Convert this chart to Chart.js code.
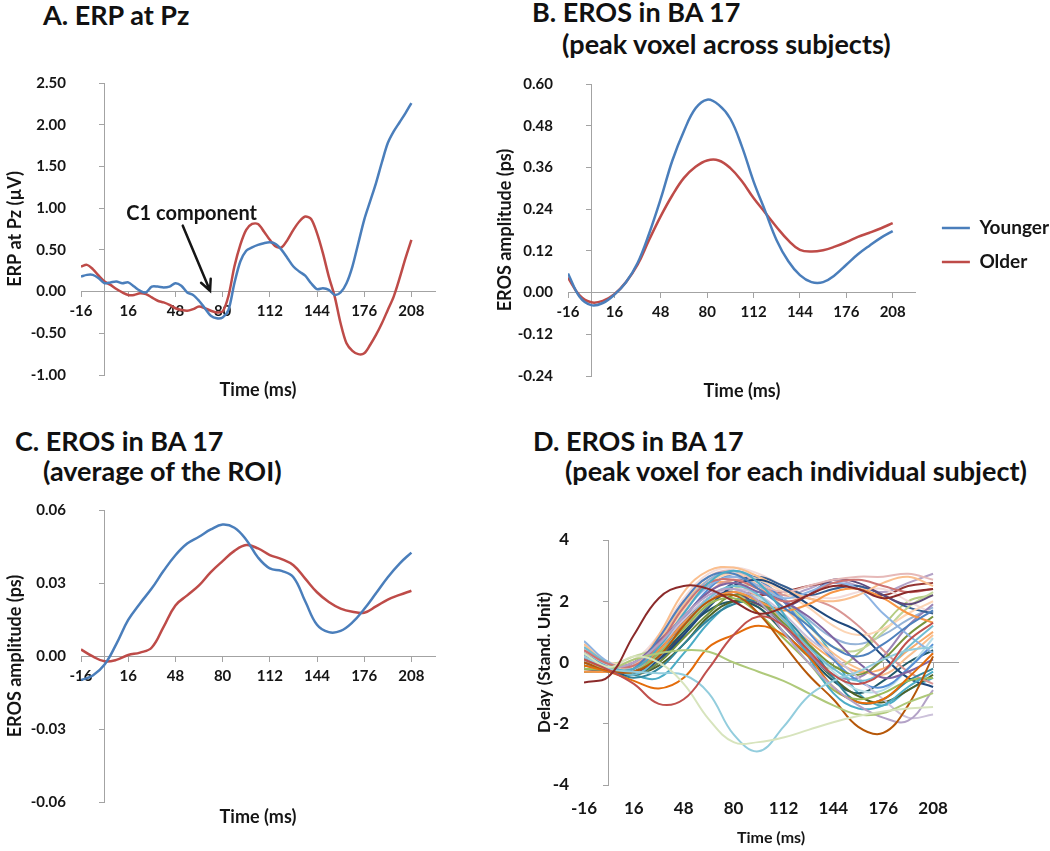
<!DOCTYPE html>
<html>
<head>
<meta charset="utf-8">
<script src="https://cdn.jsdelivr.net/npm/chart.js@4.4.1/dist/chart.umd.min.js"></script>
<style>
  html, body { margin: 0; padding: 0; background: #fff; overflow: hidden; }
  #figure { position: relative; width: 1050px; height: 851px; overflow: hidden; }
  .panel { position: absolute; }
  .ttl { position: absolute; font-family: Lato, sans-serif; font-weight: bold; font-size: 27px;
         line-height: 32px; color: #111; white-space: nowrap; }
</style>
</head>
<body>
<div id="figure">
  <div class="ttl" style="left:43px;top:-1px">A. ERP at Pz</div>
  <div class="ttl" style="left:532px;top:-4px">B. EROS in BA 17</div>
  <div class="ttl" style="left:562px;top:28px">(peak voxel across subjects)</div>
  <div class="ttl" style="left:15px;top:425px">C. EROS in BA 17</div>
  <div class="ttl" style="left:43px;top:455px">(average of the ROI)</div>
  <div class="ttl" style="left:533px;top:425px">D. EROS in BA 17</div>
  <div class="ttl" style="left:565px;top:455px">(peak voxel for each individual subject)</div>

  <div class="panel" style="left:0;top:40px;width:450px;height:375px"><canvas id="chartA"></canvas></div>
  <div class="panel" style="left:490px;top:40px;width:569px;height:375px"><canvas id="chartB"></canvas></div>
  <div class="panel" style="left:0;top:470px;width:450px;height:381px"><canvas id="chartC"></canvas></div>
  <div class="panel" style="left:530px;top:500px;width:520px;height:351px"><canvas id="chartD"></canvas></div>
</div>

<script>
const axisGray = '#a3a3a3';
const ink = '#151515';
const blue = '#4a7ebb';
const red = '#be4b48';

// shared time axis ticks (ms)
const xTicks = [-16, 16, 48, 80, 112, 144, 176, 208];

// A. ERP at Pz, sampled every 4 ms
const timeA = [-16, -12, -8, -4, 0, 4, 8, 12, 16, 20, 24, 28, 32, 36, 40, 44, 48, 52, 56, 60,
  64, 68, 72, 76, 80, 84, 88, 92, 96, 100, 104, 108, 112, 116, 120, 124, 128, 132, 136, 140,
  144, 148, 152, 156, 160, 164, 168, 172, 176, 180, 184, 188, 192, 196, 200, 204, 208];
const aYounger = [0.18, 0.20, 0.20, 0.16, 0.10, 0.11, 0.12, 0.10, 0.11,
  0.06, 0.01, -0.01, 0.06, 0.06, 0.05, 0.06, 0.10,
  0.07, -0.01, -0.04, -0.11, -0.20, -0.29, -0.32, -0.31,
  -0.22, 0.10, 0.36, 0.49, 0.53, 0.56, 0.58, 0.59,
  0.57, 0.50, 0.40, 0.30, 0.24, 0.19, 0.10, 0.03,
  0.04, 0.02, -0.04, -0.01, 0.10, 0.30, 0.58, 0.86,
  1.08, 1.30, 1.55, 1.78, 1.92, 2.03, 2.14, 2.26];
const aOlder = [0.30, 0.32, 0.27, 0.19, 0.12, 0.08, 0.03, -0.01, -0.04,
  -0.04, -0.02, -0.03, -0.07, -0.11, -0.13, -0.16, -0.20,
  -0.22, -0.23, -0.21, -0.18, -0.20, -0.23, -0.25, -0.24,
  -0.05, 0.30, 0.56, 0.74, 0.81, 0.81, 0.72, 0.62,
  0.54, 0.53, 0.62, 0.74, 0.84, 0.90, 0.87, 0.70,
  0.46, 0.18, -0.06, -0.38, -0.62, -0.71, -0.75, -0.74,
  -0.64, -0.52, -0.38, -0.22, -0.06, 0.16, 0.40, 0.62];
const aTicks = [-1, -0.5, 0, 0.5, 1, 1.5, 2, 2.5];
const c1Note = { text: 'C1 component', textX: 59, textY: 0.93, fromX: 53, fromY: 0.79, toX: 71.5, toY: 0.01 };

// B and C, sampled every 8 ms
const time8 = [-16, -8, 0, 8, 16, 24, 32, 40, 48, 56, 64, 72, 80, 88, 96, 104, 112, 120, 128,
  136, 144, 152, 160, 168, 176, 184, 192, 200, 208];
const bYounger = [0.055, -0.012, -0.036, -0.03, -0.006, 0.03, 0.085, 0.17, 0.27, 0.38, 0.465,
  0.53, 0.555, 0.54, 0.50, 0.42, 0.32, 0.235, 0.15, 0.09, 0.05, 0.03, 0.03, 0.05, 0.08, 0.11,
  0.135, 0.158, 0.177];
const bOlder = [0.043, -0.008, -0.028, -0.024, -0.005, 0.03, 0.08, 0.152, 0.22, 0.28, 0.33,
  0.362, 0.38, 0.38, 0.358, 0.32, 0.272, 0.23, 0.188, 0.15, 0.123, 0.118, 0.122, 0.132, 0.145,
  0.16, 0.172, 0.185, 0.20];
const bTicks = [-0.24, -0.12, 0, 0.12, 0.24, 0.36, 0.48, 0.60];

const cYounger = [-0.0099, -0.008, -0.0035, 0.005, 0.0148, 0.0216, 0.0278, 0.035, 0.0414, 0.0462,
  0.049, 0.052, 0.054, 0.0527, 0.0478, 0.0405, 0.036, 0.035, 0.0324, 0.0225, 0.0128, 0.0098,
  0.0103, 0.0138, 0.0193, 0.0258, 0.0324, 0.038, 0.0425];
const cOlder = [0.0027, -0.0002, -0.0022, -0.0016, 0.0004, 0.0014, 0.0035, 0.012, 0.0208, 0.0249,
  0.029, 0.0345, 0.039, 0.0432, 0.0456, 0.0442, 0.0415, 0.0398, 0.0373, 0.0318, 0.0262, 0.0222,
  0.0195, 0.0182, 0.0178, 0.0204, 0.0232, 0.0251, 0.0268];
const cTicks = [-0.06, -0.03, 0, 0.03, 0.06];

// D. one row per subject, sampled every 16 ms
const timeD = [-16, 0, 16, 32, 48, 64, 80, 96, 112, 128, 144, 160, 176, 192, 208];
const dSubjects = [
  [-0.65, -0.45, 0.9, 2.1, 2.5, 2.4, 2.0, 1.6, 1.8, 2.2, 2.5, 2.4, 2.1, 2.3, 2.4],
  [0.1, -0.25, -0.7, -1.35, -1.2, -0.2, 0.9, 1.5, 1.2, 0.4, -0.4, -0.7, -0.3, 0.7, 1.3],
  [0.3, -0.15, 0.2, 0.0, -0.7, -1.85, -2.6, -2.6, -2.45, -2.2, -1.95, -1.75, -1.6, -1.5, -1.45],
  [0.2, -0.2, -0.3, -0.35, -0.4, -1.0, -2.35, -2.9, -2.1, -1.1, -0.6, -0.3, 0.1, 0.4, 0.5],
  [0.1, -0.2, 0.1, 0.3, 0.4, 0.35, 0.0, -0.3, -0.6, -1.0, -1.4, -1.7, -1.65, -1.3, -1.0],
  [0.0, -0.25, -0.3, 0.2, 1.2, 2.0, 2.2, 1.6, 0.6, -0.4, -1.2, -2.1, -2.3, -1.4, 0.2],
  [0.2, -0.15, 0.0, 0.6, 1.5, 2.2, 2.4, 2.0, 1.0, 0.0, -0.8, -1.4, -1.8, -1.9, -0.9],
  [-0.1, -0.3, -0.6, -0.85, -0.5, 0.5, 0.9, 1.2, 0.9, 0.2, -0.8, -1.3, -1.2, -0.5, 0.3],
  [0.3, -0.15, -0.2, 0.5, 1.6, 2.6, 3.0, 2.6, 1.6, 0.2, -1.0, -1.5, -1.4, -0.8, -0.3],
  [0.0, -0.3, -0.2, 0.8, 2.0, 2.8, 2.9, 2.4, 1.8, 1.2, 0.5, 0.2, 0.6, 1.2, 1.7],
  [0.4, -0.05, -0.1, 0.6, 1.8, 2.6, 2.7, 2.4, 2.0, 2.2, 2.6, 2.7, 2.5, 2.3, 2.4],
  [-0.2, -0.25, -0.3, 0.3, 1.1, 1.9, 2.1, 1.6, 0.8, 0.0, -0.9, -1.2, -1.0, -0.6, -0.5],
  [0.1, -0.15, 0.0, 0.7, 1.5, 2.3, 2.6, 2.3, 2.0, 1.5, 0.8, 0.0, -0.5, -0.3, 0.1],
  [0.5, -0.05, -0.4, 0.2, 1.2, 2.1, 2.5, 2.2, 1.4, 0.5, -0.2, -0.6, -0.3, 0.5, 1.2],
  [-0.3, -0.3, -0.2, 0.4, 1.3, 2.0, 2.3, 2.0, 1.7, 1.9, 2.3, 2.4, 2.1, 1.6, 1.3],
  [0.2, -0.2, -0.4, 0.1, 0.9, 1.8, 2.5, 2.7, 2.4, 1.9, 1.4, 1.0, 0.2, -0.5, -0.8],
  [0.6, -0.05, -0.1, 0.9, 2.3, 3.0, 3.1, 2.8, 2.4, 2.1, 2.0, 2.2, 2.6, 2.8, 2.5],
  [0.3, -0.1, -0.2, 0.5, 1.4, 2.1, 2.4, 2.2, 1.6, 0.8, 0.2, -0.5, -1.2, -1.8, -1.7],
  [0.7, 0.0, -0.2, 0.3, 1.6, 2.5, 2.8, 2.5, 2.1, 2.3, 2.6, 2.4, 1.6, 0.9, 0.3],
  [0.4, -0.05, -0.1, 0.8, 2.0, 2.8, 3.0, 2.6, 2.3, 2.5, 2.7, 2.8, 2.8, 2.9, 2.7],
  [-0.1, -0.25, -0.4, 0.0, 0.8, 1.6, 2.2, 2.0, 1.3, 0.6, -0.1, -0.4, 0.1, 0.9, 1.5],
  [0.1, -0.2, -0.5, -0.2, 0.6, 1.4, 1.9, 2.0, 1.5, 0.6, -0.5, -1.3, -1.2, -0.6, -0.2],
  [-0.2, -0.3, -0.3, 0.4, 1.3, 2.1, 2.3, 1.9, 1.8, 2.2, 2.7, 2.6, 2.2, 1.9, 2.2],
  [0.5, 0.0, 0.0, 0.6, 1.7, 2.6, 2.9, 2.7, 2.3, 1.8, 1.2, 0.9, 1.1, 1.6, 2.0],
  [0.2, -0.15, -0.3, 0.3, 1.4, 2.4, 2.9, 2.7, 2.0, 1.0, 0.1, -0.6, -0.8, -0.2, 0.6],
  [0.0, -0.2, -0.2, 0.5, 1.5, 2.3, 2.7, 2.5, 2.2, 2.1, 1.8, 1.2, 0.4, -0.3, -0.7],
  [0.3, -0.05, 0.2, 0.5, 1.1, 1.9, 2.4, 2.5, 2.0, 1.2, 0.5, 0.4, 1.0, 1.8, 2.3],
  [0.4, -0.1, -0.3, 0.4, 1.3, 2.0, 2.3, 2.1, 1.5, 0.6, -0.3, -0.9, -0.9, -0.2, 0.8],
  [0.0, -0.2, -0.1, 0.6, 1.7, 2.5, 2.6, 2.1, 1.4, 0.7, 0.1, -0.3, -0.2, 0.4, 1.0],
  [0.1, -0.2, -0.4, 0.0, 0.9, 1.9, 2.6, 2.8, 2.5, 2.2, 2.4, 2.5, 2.2, 1.8, 1.6],
  [0.2, -0.05, -0.1, 0.4, 1.2, 2.0, 2.3, 2.0, 1.2, 0.3, -0.4, -0.5, 0.2, 1.2, 1.9],
  [-0.3, -0.3, -0.4, -0.1, 0.6, 1.5, 2.0, 1.9, 1.2, 0.3, -0.5, -1.1, -1.3, -0.9, -0.4],
  [0.5, 0.0, 0.1, 0.9, 2.1, 2.9, 3.1, 2.9, 2.5, 2.2, 2.1, 2.3, 2.4, 2.0, 1.6],
  [0.0, -0.2, -0.3, 0.2, 1.0, 1.7, 2.0, 1.8, 1.0, 0.2, -0.6, -1.0, -0.6, 0.0, 0.4],
  [0.3, -0.05, -0.3, 0.1, 1.0, 1.9, 2.3, 2.2, 2.3, 2.5, 2.6, 2.4, 2.2, 2.5, 2.6],
  [0.1, -0.1, 0.0, 0.5, 1.3, 2.0, 2.2, 1.8, 1.0, 0.2, -0.2, 0.3, 1.2, 2.0, 2.2],
  [0.3, -0.05, -0.2, 0.6, 1.8, 2.7, 3.0, 2.7, 2.1, 1.4, 0.8, 0.6, 0.9, 1.4, 1.8],
  [0.2, -0.1, -0.2, 0.7, 1.9, 2.7, 2.9, 2.5, 1.8, 1.0, 0.3, -0.2, -0.4, 0.2, 0.9],
  [0.4, 0.0, -0.2, 0.6, 1.7, 2.5, 2.8, 2.5, 2.2, 2.4, 2.7, 2.5, 2.3, 2.6, 2.9],
  [0.2, -0.1, -0.4, -0.5, 0.3, 1.3, 2.0, 2.3, 2.0, 1.3, 0.2, -1.0, -1.4, -0.9, -0.5]
];
const dColors = ['#8b2a2a', '#c0504d', '#d7e4bd', '#93cddd', '#afc97a', '#b65708', '#b3a2c7', '#e46c0a',
  '#4bacc6', '#4f81bd', '#cd7371', '#9bbb59', '#8064a2', '#6fbdd3', '#f79646', '#1f497d',
  '#fabf8f', '#ccc1da', '#8eb4e3', '#e6b9b8', '#77933c', '#31859c', '#5f497a', '#fcd5b5',
  '#558ed5', '#d99694', '#c3d69b', '#b7dee8', '#f9ab6b', '#366092', '#9983b5', '#4f6228',
  '#f2dcdb', '#215968', '#943634', '#b4cc82', '#95b3d7', '#fac090', '#b3a2c7', '#4bacc6'];
const dTicks = [-4, -2, 0, 2, 4];

Chart.defaults.font.family = 'Lato';
Chart.defaults.color = ink;

function setTicks(values) {
  return function(axis) { axis.ticks = values.map(v => ({ value: v })); };
}
function pairs(times, values) {
  return values.map((v, i) => ({ x: times[i], y: v }));
}
function line(label, times, values, color, width, tension) {
  return { label: label, data: pairs(times, values), borderColor: color, backgroundColor: color,
           borderWidth: width, pointRadius: 0, tension: tension, fill: false };
}

const c1Plugin = {
  id: 'c1Note',
  afterDatasetsDraw(chart) {
    const { ctx, scales: { x, y } } = chart;
    const x0 = x.getPixelForValue(c1Note.fromX), y0 = y.getPixelForValue(c1Note.fromY);
    const x1 = x.getPixelForValue(c1Note.toX), y1 = y.getPixelForValue(c1Note.toY);
    ctx.save();
    ctx.fillStyle = ink;
    ctx.font = 'bold 20px Lato';
    ctx.textAlign = 'center';
    ctx.textBaseline = 'middle';
    ctx.fillText(c1Note.text, x.getPixelForValue(c1Note.textX), y.getPixelForValue(c1Note.textY));
    const ang = Math.atan2(y1 - y0, x1 - x0);
    ctx.strokeStyle = ink;
    ctx.lineWidth = 2.5;
    ctx.lineCap = 'round';
    ctx.beginPath();
    ctx.moveTo(x0, y0);
    ctx.lineTo(x1, y1);
    ctx.moveTo(x1 - 12 * Math.cos(ang - 0.45), y1 - 12 * Math.sin(ang - 0.45));
    ctx.lineTo(x1, y1);
    ctx.lineTo(x1 - 12 * Math.cos(ang + 0.45), y1 - 12 * Math.sin(ang + 0.45));
    ctx.stroke();
    ctx.restore();
  }
};

function makePanel(id, p) {
  const tickFont = p.tickFont || { family: 'Lato', weight: 'bold', size: 15 };
  const xTitleFont = p.xTitleFont || { family: 'Lato', weight: 'bold', size: 18 };
  const yTitleFont = p.yTitleFont || { family: 'Lato', weight: 'bold', size: 18 };
  const yMin = p.yTicks[0], yMax = p.yTicks[p.yTicks.length - 1];
  const scales = {
    x: {
      type: 'linear', min: -16, max: 224, position: { y: 0 },
      afterBuildTicks: setTicks(xTicks),
      grid: { drawOnChartArea: false, color: axisGray, tickLength: 5 },
      border: { color: axisGray },
      ticks: { display: !p.lowLabels, autoSkip: false, maxRotation: 0, padding: 6, color: ink, font: tickFont }
    },
    xb: {
      type: 'linear', min: -16, max: 224, position: 'bottom',
      afterBuildTicks: setTicks(xTicks),
      grid: { display: false, drawTicks: false },
      border: { display: false },
      ticks: { display: !!p.lowLabels, autoSkip: false, maxRotation: 0, padding: 13, color: ink, font: tickFont },
      title: { display: true, text: 'Time (ms)', color: ink, font: xTitleFont, padding: { top: 4, bottom: 4 } },
      afterFit: s => { s.height = p.bottomHeight; }
    },
    y: {
      type: 'linear', min: yMin, max: yMax, position: { x: 0 },
      afterBuildTicks: setTicks(p.yTicks),
      grid: { drawOnChartArea: false, color: axisGray, tickLength: 5 },
      border: { color: axisGray },
      ticks: { display: false }
    },
    yl: {
      type: 'linear', min: yMin, max: yMax, position: 'left',
      afterBuildTicks: setTicks(p.yTicks),
      grid: { display: false, drawTicks: false },
      border: { display: false },
      ticks: { padding: 15, color: ink, font: tickFont, callback: v => v.toFixed(p.digits) },
      title: { display: true, text: p.yTitle, color: ink, font: yTitleFont, padding: { top: 4, bottom: 4 } },
      afterFit: s => { s.width = p.leftWidth; }
    }
  };
  if (p.gapWidth) {
    scales.gap = {
      type: 'linear', position: 'right', display: true,
      grid: { display: false, drawTicks: false }, border: { display: false }, ticks: { display: false },
      afterFit: s => { s.width = p.gapWidth; }
    };
  }
  return new Chart(document.getElementById(id), {
    type: 'line',
    data: { datasets: p.datasets },
    plugins: p.plugins || [],
    options: {
      responsive: true,
      maintainAspectRatio: false,
      animation: false,
      events: [],
      layout: { padding: p.padding },
      scales: scales,
      plugins: {
        legend: p.legend ? {
          display: true, position: 'right', maxWidth: 220,
          labels: { usePointStyle: true, pointStyle: 'line', pointStyleWidth: 28, padding: 15,
                    color: ink, font: { family: 'Lato', weight: 'bold', size: 19 } }
        } : { display: false },
        tooltip: { enabled: false }
      }
    }
  });
}

makePanel('chartA', {
  datasets: [line('Younger', timeA, aYounger, blue, 2.5, 0.3), line('Older', timeA, aOlder, red, 2.5, 0.3)],
  yTicks: aTicks, digits: 2, yTitle: 'ERP at Pz (\u00b5V)',
  leftWidth: 81, bottomHeight: 30,
  padding: { top: 43, right: 15, bottom: 10, left: 0 },
  plugins: [c1Plugin]
});

makePanel('chartB', {
  datasets: [line('Younger', time8, bYounger, blue, 2.5, 0.4), line('Older', time8, bOlder, red, 2.5, 0.4)],
  yTicks: bTicks, digits: 2, yTitle: 'EROS amplitude (ps)',
  leftWidth: 78, bottomHeight: 30, gapWidth: 11, legend: true,
  padding: { top: 44, right: 0, bottom: 9, left: 0 }
});

makePanel('chartC', {
  datasets: [line('Younger', time8, cYounger, blue, 2.5, 0.4), line('Older', time8, cOlder, red, 2.5, 0.4)],
  yTicks: cTicks, digits: 2, yTitle: 'EROS amplitude (ps)',
  leftWidth: 81, bottomHeight: 30,
  padding: { top: 40, right: 15, bottom: 19, left: 0 }
});

makePanel('chartD', {
  datasets: dSubjects.map((vals, i) => line('S' + (i + 1), timeD, vals, dColors[i % dColors.length], 2, 0.4)),
  yTicks: dTicks, digits: 0, yTitle: 'Delay (Stand. Unit)',
  leftWidth: 54, bottomHeight: 66, lowLabels: true,
  tickFont: { family: 'Lato', weight: 'bold', size: 17 },
  xTitleFont: { family: 'Lato', weight: 'bold', size: 16 },
  yTitleFont: { family: 'Lato', weight: 'bold', size: 17 },
  padding: { top: 40, right: 92, bottom: 0, left: 0 }
});
</script>
</body>
</html>
